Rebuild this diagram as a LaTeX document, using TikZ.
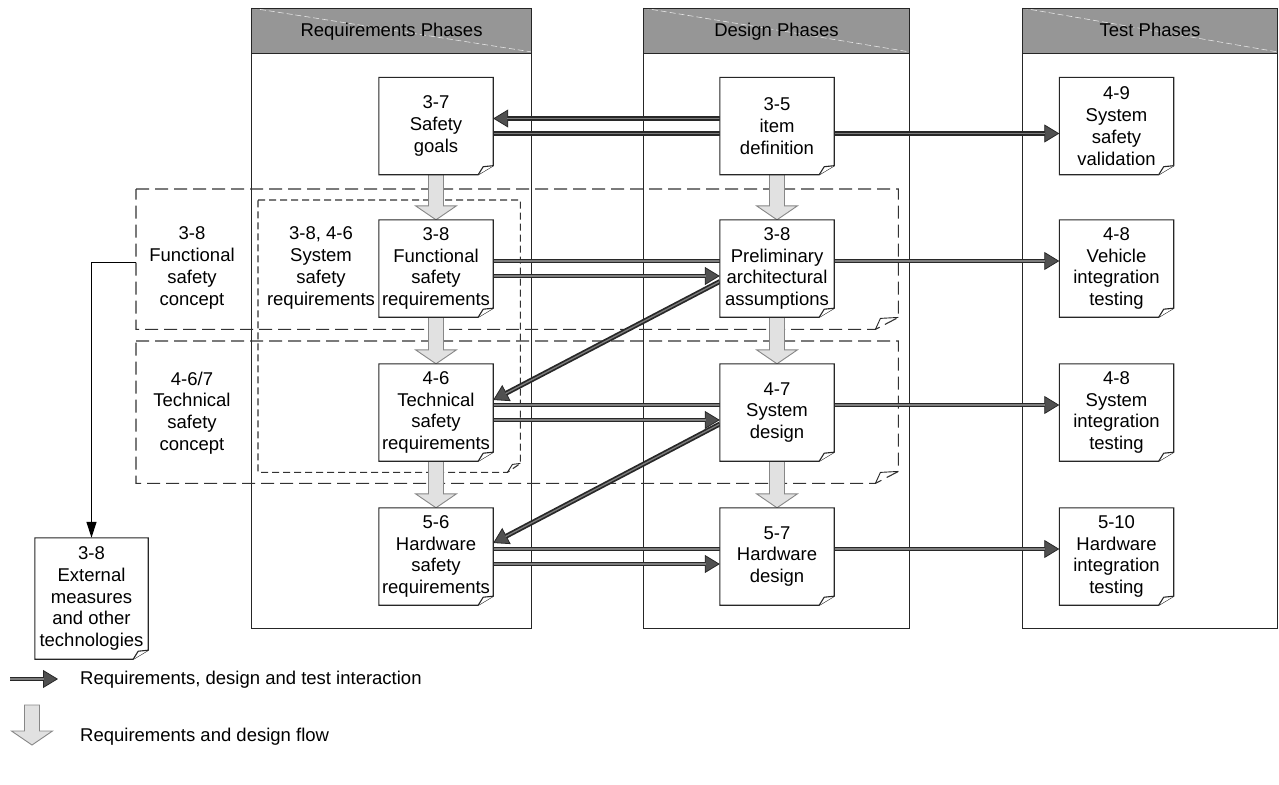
\documentclass[tikz,border=0pt]{standalone}
\usepackage{fontspec}
\setmainfont{Liberation Sans}
\usetikzlibrary{arrows.meta,calc}

\pgfdeclarelayer{back}
\pgfdeclarelayer{mid}
\pgfdeclarelayer{boxes}
\pgfsetlayers{back,mid,boxes,main}

\definecolor{hdrgray}{RGB}{150,150,150}
\definecolor{flowfill}{RGB}{225,225,225}
\definecolor{flowedge}{RGB}{135,135,135}
\definecolor{linkdark}{RGB}{40,40,40}
\definecolor{linkmid}{RGB}{125,125,125}
\definecolor{headfill}{RGB}{80,80,80}

% document outline with a folded bottom-right corner
\newcommand{\docoutline}[1]{%
  \begin{pgfonlayer}{boxes}
    \draw[docline, fill=white] (#1.north west) -- (#1.north east)
      -- ([yshift=9pt]#1.south east) -- ([xshift=-15pt]#1.south east)
      -- (#1.south west) -- cycle;
    \draw[docline, fill=white, line join=round] ([xshift=-15pt]#1.south east)
      -- ([xshift=-10pt,yshift=8pt]#1.south east) -- ([yshift=9pt]#1.south east);
  \end{pgfonlayer}}

% dashed grouping frame: name, dash style, fold width, fold height
\newcommand{\regionoutline}[4]{%
  \begin{pgfonlayer}{back}
    \draw[#2] (#1.north west) -- (#1.north east)
      -- ([yshift=#4]#1.south east) -- ([xshift=-#3]#1.south east)
      -- (#1.south west) -- cycle;
    \draw[docline, line width=0.9pt, line join=round] ([xshift=-#3]#1.south east)
      -- ([xshift=-#3+5pt,yshift=#4-1pt]#1.south east) -- ([yshift=#4]#1.south east);
  \end{pgfonlayer}}

% light block arrow for the flow between phases
\newcommand{\flowarrow}[2]{%
  \begin{pgfonlayer}{mid}
    \draw[flow] ([xshift=-7.5pt]#1) -- ([xshift=-7.5pt,yshift=14pt]#2)
      -- ([xshift=-20.5pt,yshift=14pt]#2) -- (#2)
      -- ([xshift=20.5pt,yshift=14pt]#2) -- ([xshift=7.5pt,yshift=14pt]#2)
      -- ([xshift=7.5pt]#1) -- cycle;
  \end{pgfonlayer}}

\begin{document}
\begin{tikzpicture}[x=1pt,y=-1pt,
  every node/.style={font=\fontsize{18.5}{21.8}\selectfont, text=black},
  doc/.style={minimum width=114pt, minimum height=97pt, inner sep=0pt, align=center},
  docline/.style={line width=1.1pt, draw=black!85},
  lbl/.style={align=center, inner sep=0pt},
  colbox/.style={draw=black!85, line width=1.1pt, inner sep=0pt, anchor=north west},
  header/.style={draw=black!85, line width=1.1pt, inner sep=0pt,
    minimum height=45pt, text height=13.5pt, text depth=3.5pt, anchor=north},
  region/.style={inner sep=0pt, anchor=north west},
  longdash/.style={draw=black!80, line width=1.1pt, dash pattern=on 13pt off 6pt},
  shortdash/.style={draw=black!80, line width=1.1pt, dash pattern=on 7pt off 4pt},
  flow/.style={fill=flowfill, draw=flowedge, line width=0.9pt, line join=miter},
  link/.style={line width=4.8pt, draw=linkdark,
    -{Triangle[length=15pt,width=18pt,line width=0.8pt,fill=headfill]},
    postaction={draw=linkmid, line width=1.3pt, -, shorten >=14pt}},
  plainarrow/.style={line width=1.1pt, draw=black,
    -{Triangle[length=16pt,width=10pt]}}
]
\useasboundingbox (0,0) rectangle (1279,784);

% ---------- phase columns ----------
\begin{pgfonlayer}{back}
  \node[colbox, minimum width=280pt, minimum height=620pt] (reqcol) at (251,8) {};
  \node[colbox, minimum width=266pt, minimum height=620pt] (descol) at (643,8) {};
  \node[colbox, minimum width=255pt, minimum height=620pt] (tstcol) at (1022,8) {};
  \foreach \h in {reqcol,descol,tstcol}{
    \fill[hdrgray] (\h.north west) rectangle ([yshift=-45pt]\h.north east);
    \draw[white!75!hdrgray, line width=0.6pt, dash pattern=on 6pt off 3pt]
      (\h.north west) -- ([yshift=-44pt]\h.north east);
  }
  \node[header, minimum width=280pt] (reqhead) at (reqcol.north) {Requirements Phases};
  \node[header, minimum width=266pt] (deshead) at (descol.north) {Design Phases};
  \node[header, minimum width=255pt] (tsthead) at (tstcol.north) {Test Phases};
\end{pgfonlayer}

% ---------- grouping frames ----------
\node[region, minimum width=762pt, minimum height=140pt] (fsc) at (136,189) {};
\node[region, minimum width=762pt, minimum height=142pt] (tsc) at (136,341) {};
\node[region, minimum width=262pt, minimum height=272pt] (ssr) at (258,200) {};
\regionoutline{fsc}{longdash}{23pt}{12pt}
\regionoutline{tsc}{longdash}{23pt}{12pt}
\regionoutline{ssr}{shortdash}{13pt}{9pt}

\node[lbl] (fsclbl) at (192,268) {3-8\\Functional\\safety\\concept};
\node[lbl] (tsclbl) at (192,413) {4-6/7\\Technical\\safety\\concept};
\node[lbl] (ssrlbl) at (321,268) {3-8, 4-6\\System\\safety\\requirements};

% ---------- work products ----------
\node[doc] (sg)  at (436,126)   {3-7\\Safety\\goals};
\node[doc] (fsr) at (436,268.5) {3-8\\Functional\\safety\\requirements};
\node[doc] (tsr) at (436,412.5) {4-6\\Technical\\safety\\requirements};
\node[doc] (hsr) at (436,556.5) {5-6\\Hardware\\safety\\requirements};

\node[doc] (id)  at (777,126)   {3-5\\item\\definition};
\node[doc] (paa) at (777,268.5) {3-8\\Preliminary\\architectural\\assumptions};
\node[doc] (sd)  at (777,412.5) {4-7\\System\\design};
\node[doc] (hd)  at (777,556.5) {5-7\\Hardware\\design};

\node[doc] (ssv) at (1116.5,126)   {4-9\\System\\safety\\validation};
\node[doc] (vit) at (1116.5,268.5) {4-8\\Vehicle\\integration\\testing};
\node[doc] (sit) at (1116.5,412.5) {4-8\\System\\integration\\testing};
\node[doc] (hit) at (1116.5,556.5) {5-10\\Hardware\\integration\\testing};

\node[doc, minimum width=113pt, minimum height=121pt] (ext) at (91.5,598.5)
  {3-8\\External\\measures\\and other\\technologies};

\foreach \n in {sg,fsr,tsr,hsr,id,paa,sd,hd,ssv,vit,sit,hit,ext}{
  \docoutline{\n}
}

% ---------- requirements / design / test interaction ----------
\begin{pgfonlayer}{mid}
  \draw[link] ([yshift=7.5pt]id.west)   -- ([yshift=7.5pt]sg.east);
  \draw[link] ([yshift=-7.5pt]sg.east)  -- ([yshift=-7.5pt]ssv.west);

  \draw[link] ([yshift=7.5pt]fsr.east)  -- ([yshift=7.5pt]vit.west);
  \draw[link] ([yshift=-7.5pt]fsr.east) -- ([yshift=-7.5pt]paa.west);
  \draw[link] ([yshift=-13pt]paa.west)  -- ([yshift=12.5pt]tsr.east);

  \draw[link] ([yshift=7.5pt]tsr.east)  -- ([yshift=7.5pt]sit.west);
  \draw[link] ([yshift=-7.5pt]tsr.east) -- ([yshift=-7.5pt]sd.west);
  \draw[link] ([yshift=-11.5pt]sd.west) -- ([yshift=13.5pt]hsr.east);

  \draw[link] ([yshift=7.5pt]hsr.east)  -- ([yshift=7.5pt]hit.west);
  \draw[link] ([yshift=-7.5pt]hsr.east) -- ([yshift=-7.5pt]hd.west);

  \draw[plainarrow] ([yshift=-3pt]fsc.west) -| (ext.north);
\end{pgfonlayer}

% ---------- requirements and design flow ----------
\flowarrow{sg.south}{fsr.north}
\flowarrow{fsr.south}{tsr.north}
\flowarrow{tsr.south}{hsr.north}
\flowarrow{id.south}{paa.north}
\flowarrow{paa.south}{sd.north}
\flowarrow{sd.south}{hd.north}

% ---------- legend ----------
\coordinate (lgA) at (10,679);
\coordinate (lgB) at (58,679);
\draw[link] (lgA) -- (lgB);
\node[anchor=west, inner sep=0pt] (lgtxtA) at (80,680) {Requirements, design and test interaction};

\coordinate (lgtop) at (32,705);
\coordinate (lgtip) at (32,745);
\flowarrow{lgtop}{lgtip}
\node[anchor=west, inner sep=0pt] (lgtxtB) at (80,737) {Requirements and design flow};
\end{tikzpicture}
\end{document}
